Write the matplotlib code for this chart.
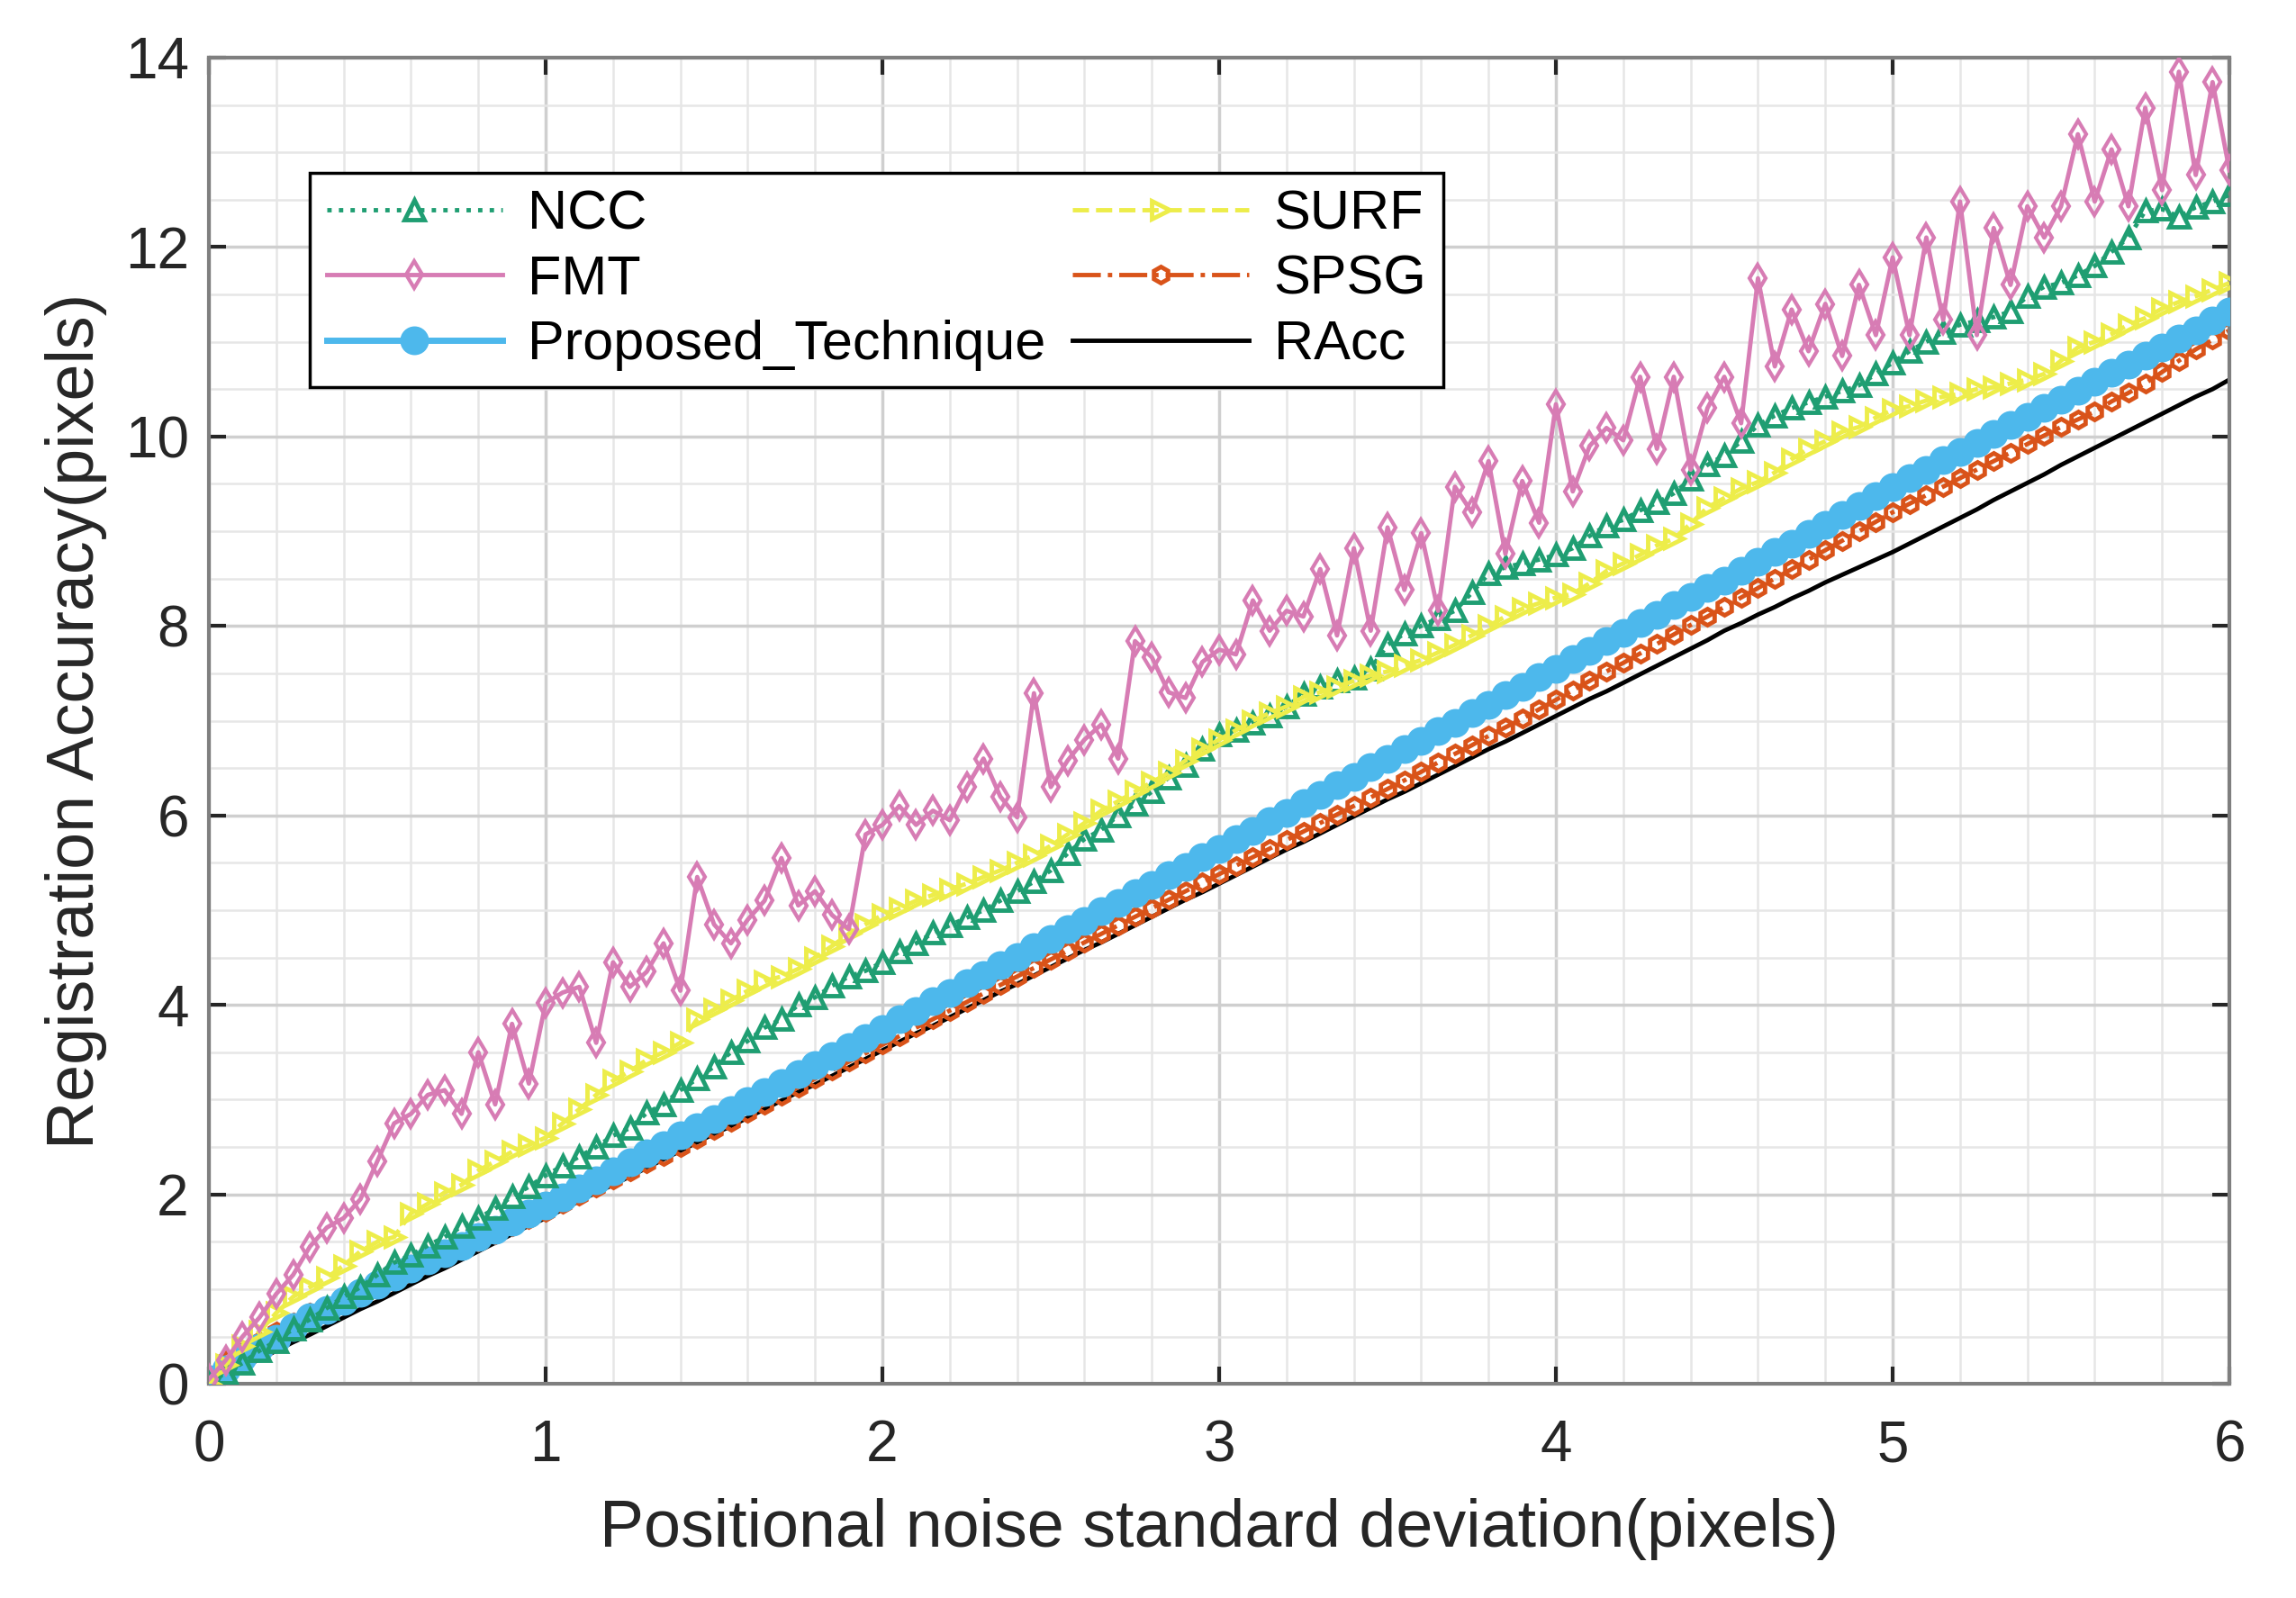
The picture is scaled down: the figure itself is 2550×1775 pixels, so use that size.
import numpy as np
import matplotlib.pyplot as plt
from matplotlib.ticker import MultipleLocator

plt.rcParams['font.family'] = ['Liberation Sans', 'DejaVu Sans']

# positional noise standard deviation (pixels), 0.05 steps
noise_sd = np.round(np.arange(121) * 0.05, 2)

ncc = [0.0, 0.12, 0.22, 0.35, 0.45, 0.58, 0.68, 0.8, 0.92, 1.02,
       1.15, 1.28, 1.36, 1.46, 1.55, 1.66, 1.75, 1.85, 1.98, 2.08,
       2.2, 2.3, 2.4, 2.5, 2.62, 2.7, 2.86, 2.95, 3.1, 3.22,
       3.35, 3.5, 3.62, 3.76, 3.85, 4.0, 4.08, 4.2, 4.3, 4.36,
       4.45, 4.56, 4.65, 4.76, 4.84, 4.92, 5.0, 5.1, 5.2, 5.3,
       5.42, 5.6, 5.75, 5.85, 6.0, 6.12, 6.25, 6.4, 6.53, 6.7,
       6.85, 6.9, 6.98, 7.05, 7.15, 7.28, 7.36, 7.42, 7.45, 7.55,
       7.8, 7.92, 8.0, 8.08, 8.16, 8.35, 8.55, 8.62, 8.66, 8.7,
       8.75, 8.82, 8.95, 9.06, 9.12, 9.22, 9.3, 9.4, 9.55, 9.7,
       9.8, 9.95, 10.12, 10.22, 10.3, 10.36, 10.42, 10.48, 10.54, 10.66,
       10.78, 10.9, 11.0, 11.1, 11.18, 11.22, 11.26, 11.32, 11.48, 11.58,
       11.62, 11.7, 11.8, 11.95, 12.1, 12.38, 12.4, 12.32, 12.42, 12.48,
       12.55]

fmt = [0.05, 0.25, 0.5, 0.7, 0.95, 1.15, 1.45, 1.65, 1.75, 1.95,
       2.35, 2.75, 2.85, 3.05, 3.1, 2.85, 3.5, 2.95, 3.8, 3.17,
       4.02, 4.13, 4.19, 3.6, 4.45, 4.19, 4.35, 4.65, 4.15, 5.35,
       4.85, 4.65, 4.9, 5.1, 5.55, 5.05, 5.2, 4.95, 4.8, 5.8,
       5.9, 6.1, 5.9, 6.05, 5.95, 6.3, 6.6, 6.2, 5.98, 7.29,
       6.3, 6.58, 6.8, 6.96, 6.6, 7.84, 7.67, 7.3, 7.24, 7.62,
       7.75, 7.7, 8.27, 7.95, 8.16, 8.1, 8.6, 7.9, 8.82, 7.95,
       9.04, 8.38, 8.98, 8.16, 9.47, 9.2, 9.74, 8.76, 9.53, 9.09,
       10.34, 9.42, 9.9, 10.09, 9.96, 10.63, 9.87, 10.63, 9.65, 10.3,
       10.63, 10.14, 11.67, 10.74, 11.34, 10.9, 11.4, 10.85, 11.6, 11.07,
       11.89, 11.07, 12.1, 11.23, 12.48, 11.07, 12.2, 11.6, 12.43, 12.1,
       12.43, 13.19, 12.48, 13.03, 12.43, 13.47, 12.6, 13.85, 12.76, 13.74,
       12.81]

proposed = [0.05, 0.15, 0.28, 0.38, 0.48, 0.6, 0.7, 0.78, 0.88, 0.96,
            1.05, 1.13, 1.22, 1.3, 1.38, 1.46, 1.55, 1.63, 1.71, 1.8,
            1.88, 1.97, 2.06, 2.15, 2.24, 2.34, 2.43, 2.52, 2.62, 2.71,
            2.8, 2.89, 2.99, 3.08, 3.18, 3.27, 3.37, 3.46, 3.56, 3.65,
            3.75, 3.85, 3.94, 4.04, 4.13, 4.23, 4.32, 4.42, 4.51, 4.61,
            4.7, 4.8, 4.89, 4.99, 5.08, 5.18, 5.27, 5.37, 5.46, 5.56,
            5.65, 5.75, 5.84, 5.94, 6.03, 6.13, 6.22, 6.32, 6.41, 6.51,
            6.6, 6.7, 6.79, 6.89, 6.98, 7.08, 7.17, 7.27, 7.36, 7.46,
            7.55, 7.65, 7.74, 7.84, 7.93, 8.03, 8.12, 8.22, 8.31, 8.4,
            8.48, 8.58, 8.68, 8.78, 8.87, 8.97, 9.07, 9.17, 9.27, 9.37,
            9.47, 9.56, 9.65, 9.75, 9.84, 9.93, 10.03, 10.12, 10.21, 10.3,
            10.39, 10.48, 10.58, 10.67, 10.76, 10.85, 10.94, 11.03, 11.12, 11.22,
            11.32]

surf = [0.0, 0.2, 0.4, 0.55, 0.75, 0.92, 1.02, 1.12, 1.25, 1.4,
        1.5, 1.55, 1.8, 1.9, 2.02, 2.1, 2.25, 2.35, 2.45, 2.52,
        2.6, 2.75, 2.9, 3.05, 3.2, 3.3, 3.42, 3.5, 3.6, 3.85,
        3.95, 4.05, 4.15, 4.25, 4.3, 4.38, 4.5, 4.62, 4.75, 4.85,
        4.95, 5.02, 5.1, 5.16, 5.22, 5.28, 5.35, 5.42, 5.5, 5.58,
        5.68, 5.8, 5.92, 6.05, 6.15, 6.25, 6.35, 6.45, 6.58, 6.7,
        6.8, 6.9, 7.0, 7.08, 7.15, 7.25, 7.3, 7.36, 7.42, 7.48,
        7.52, 7.58, 7.64, 7.72, 7.8, 7.9, 8.0, 8.1, 8.18, 8.24,
        8.3, 8.34, 8.45, 8.58, 8.66, 8.75, 8.85, 8.92, 9.08, 9.25,
        9.35, 9.45, 9.52, 9.62, 9.76, 9.87, 9.95, 10.05, 10.1, 10.2,
        10.28, 10.32, 10.38, 10.42, 10.45, 10.5, 10.52, 10.56, 10.6, 10.66,
        10.8, 10.94, 11.0, 11.08, 11.18, 11.25, 11.35, 11.42, 11.48, 11.55,
        11.62]

spsg = [0.1, 0.25, 0.35, 0.45, 0.55, 0.65, 0.75, 0.82, 0.9, 0.98,
        1.05, 1.12, 1.2, 1.28, 1.35, 1.43, 1.5, 1.58, 1.66, 1.74,
        1.82, 1.9, 1.99, 2.07, 2.16, 2.24, 2.33, 2.41, 2.5, 2.59,
        2.68, 2.77, 2.86, 2.95, 3.04, 3.13, 3.22, 3.31, 3.4, 3.49,
        3.58, 3.67, 3.76, 3.85, 3.94, 4.03, 4.12, 4.21, 4.3, 4.39,
        4.48, 4.57, 4.66, 4.75, 4.84, 4.93, 5.02, 5.11, 5.2, 5.29,
        5.38, 5.47, 5.56, 5.65, 5.74, 5.83, 5.92, 6.01, 6.1, 6.19,
        6.28, 6.37, 6.46, 6.56, 6.65, 6.74, 6.84, 6.93, 7.02, 7.12,
        7.22, 7.32, 7.42, 7.52, 7.61, 7.71, 7.81, 7.91, 8.01, 8.1,
        8.2, 8.3, 8.4, 8.5, 8.6, 8.7, 8.8, 8.9, 9.0, 9.1,
        9.2, 9.29, 9.38, 9.47, 9.56, 9.65, 9.74, 9.83, 9.92, 10.01,
        10.1, 10.18, 10.26, 10.37, 10.46, 10.56, 10.68, 10.8, 10.92, 11.02,
        11.12]

racc = [0.0, 0.08, 0.17, 0.26, 0.35, 0.44, 0.52, 0.61, 0.7, 0.79,
        0.87, 0.96, 1.05, 1.14, 1.22, 1.31, 1.4, 1.49, 1.58, 1.67,
        1.75, 1.84, 1.93, 2.02, 2.1, 2.19, 2.28, 2.37, 2.46, 2.55,
        2.64, 2.72, 2.81, 2.9, 2.99, 3.08, 3.16, 3.25, 3.34, 3.43,
        3.52, 3.61, 3.7, 3.78, 3.87, 3.96, 4.05, 4.14, 4.22, 4.31,
        4.4, 4.49, 4.58, 4.66, 4.75, 4.84, 4.93, 5.02, 5.11, 5.19,
        5.28, 5.37, 5.46, 5.55, 5.64, 5.72, 5.81, 5.9, 5.99, 6.08,
        6.17, 6.25, 6.34, 6.43, 6.52, 6.61, 6.7, 6.78, 6.87, 6.96,
        7.05, 7.14, 7.23, 7.31, 7.4, 7.49, 7.58, 7.67, 7.76, 7.85,
        7.95, 8.03, 8.12, 8.2, 8.29, 8.37, 8.46, 8.54, 8.62, 8.7,
        8.78, 8.87, 8.96, 9.05, 9.14, 9.23, 9.33, 9.42, 9.51, 9.6,
        9.7, 9.79, 9.88, 9.97, 10.06, 10.15, 10.24, 10.33, 10.42, 10.5,
        10.6]

fig = plt.figure(figsize=(25.5, 17.75), dpi=100)
ax = fig.add_axes([0.091, 0.134, 0.880, 0.830])

ax.plot(noise_sd, ncc, ':', color='#1f9e72', lw=3.5, marker='^', ms=16,
        mfc='none', mew=3.5, label='NCC', zorder=4)
ax.plot(noise_sd, fmt, '-', color='#d77cb4', lw=3.5, marker='d', ms=15,
        mfc='none', mew=3, label='FMT', zorder=5)
ax.plot(noise_sd, proposed, '-', color='#4db8ec', lw=5, marker='o', ms=20,
        mfc='#4db8ec', mew=3, label='Proposed_Technique', zorder=3)
ax.plot(noise_sd, surf, '--', color='#eded4a', lw=3.5, marker='>', ms=15,
        mfc='none', mew=3.5, label='SURF', zorder=4)
ax.plot(noise_sd, spsg, '-.', color='#d95319', lw=3.5, marker='h', ms=13,
        mfc='none', mew=3.5, label='SPSG', zorder=2)
ax.plot(noise_sd, racc, '-', color='black', lw=3.5, label='RAcc', zorder=1)

ax.set_xlim(0, 6)
ax.set_ylim(0, 14)
ax.xaxis.set_major_locator(MultipleLocator(1))
ax.xaxis.set_minor_locator(MultipleLocator(0.2))
ax.yaxis.set_major_locator(MultipleLocator(2))
ax.yaxis.set_minor_locator(MultipleLocator(0.5))

ax.grid(which='major', color='#cfcfcf', lw=2.5)
ax.grid(which='minor', color='#e6e6e6', lw=1.8)
ax.set_axisbelow(True)
for s in ax.spines.values():
    s.set_color('#7f7f7f')
    s.set_linewidth(3)

ax.tick_params(which='major', direction='in', length=14, width=3, color='#262626',
               top=True, right=True, labelsize=46, labelcolor='#262626')
ax.tick_params(axis='x', which='major', pad=28)
ax.tick_params(axis='y', which='major', pad=16)
ax.tick_params(which='minor', length=0)

ax.set_xlabel('Positional noise standard deviation(pixels)', fontsize=53,
              color='#262626', labelpad=20)
ax.set_ylabel('Registration Accuracy(pixels)', fontsize=53, color='#262626',
              labelpad=14)

leg = ax.legend(loc='upper left', bbox_to_anchor=(0.05, 0.913), ncol=2,
                fontsize=44, frameon=True, fancybox=False, handlelength=3.2,
                columnspacing=0.5, labelspacing=0.25, borderpad=0.3,
                handletextpad=0.45, borderaxespad=0)
leg.get_frame().set_edgecolor('black')
leg.get_frame().set_linewidth(2.5)
leg.get_frame().set_alpha(1)

fig.savefig('out.png', dpi=100)
